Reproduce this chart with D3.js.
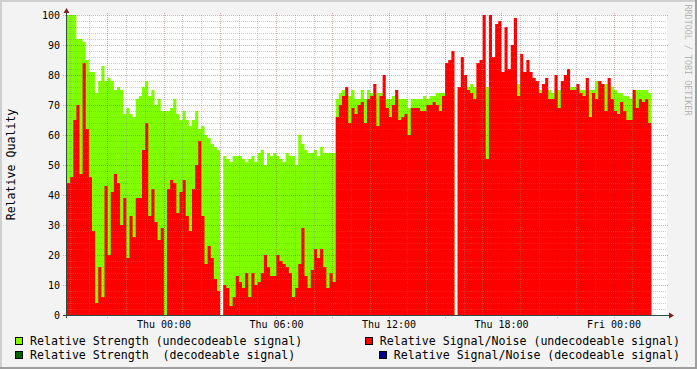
<!DOCTYPE html>
<html>
<head>
<meta charset="utf-8">
<title>Relative Quality</title>
<script src="https://d3js.org/d3.v7.min.js"></script>
<style>
  body { margin: 0; background: #f3f3f3; }
  svg text { font-family: "DejaVu Sans Mono", monospace; fill: #000; }
</style>
</head>
<body>
<script>
// one value every 10 minutes, starting Wed 18:51
const startTime = new Date(2010, 0, 6, 18, 51, 12);
const stepMinutes = 10;

// Relative Strength (undecodeable signal), null = no data
const strength = [
  100,100,100,92,92,91,85,81,81,74, 78,83,78,79,78,75,76,75,67,69,
  67,66,72,73,76,78,73,75,70,72, 68,68,68,69,72,67,65,68,65,63,
  65,68,62,63,60,59,57,56,55,null, 53,52,51,53,53,53,52,51,52,53,
  51,54,55,50,54,53,54,53,52,51, 54,53,53,50,60,57,55,54,54,55,
  53,56,54,54,54,54,72,74,75,74, 73,75,72,72,75,72,75,74,72,74,
  74,73,72,72,73,73,72,72,72,69, 72,72,72,72,73,72,73,73,74,74,
  74,75,75,75,null,75,75,75,76,77, 76,75,75,75,76,75,75,76,75,75,
  75,75,75,75,77,75,75,75,75,75, 75,75,75,75,75,74,75,75,75,75,
  75,76,76,76,75,75,75,75,75,78, 78,77,77,77,76,75,74,74,73,73,
  72,74,75,75,75,75,74
];

// Relative Signal/Noise (undecodeable signal), null = no data
const signalNoise = [
  44,46,65,70,47,84,62,46,28,4, 16,6,43,20,41,47,44,30,39,19,
  33,26,39,39,55,64,33,42,31,25, 29,0,42,45,44,34,41,45,33,28,
  42,50,58,33,17,23,19,12,8,null, 10,9,3,6,13,11,9,14,6,14,
  10,11,14,20,16,13,13,20,18,17, 16,14,6,9,17,29,13,9,15,22,
  19,22,16,9,14,11,66,70,73,76, 64,69,67,70,71,64,72,73,77,63,
  73,80,69,66,70,75,65,66,67,60, 69,69,69,68,68,70,70,71,70,68,
  73,84,85,88,null,76,86,80,75,74, 72,84,85,100,52,100,86,97,98,81,
  96,82,90,99,73,87,81,85,81,79, 78,74,77,79,72,72,80,69,78,80,
  82,75,75,77,74,73,79,66,74,72, 78,77,68,79,72,68,67,71,68,65,
  65,75,69,72,71,72,64
];

const yTicks = [0, 10, 20, 30, 40, 50, 60, 70, 80, 90, 100];
const xTickLabels = ["Thu 00:00", "Thu 06:00", "Thu 12:00", "Thu 18:00", "Fri 00:00"];

const legendItems = [
  {label: "Relative Strength (undecodeable signal)", color: "#7fff00", col: 0, row: 0},
  {label: "Relative Signal/Noise (undecodeable signal)", color: "#ff0000", col: 1, row: 0},
  {label: "Relative Strength  (decodeable signal)", color: "#006400", col: 0, row: 1},
  {label: "Relative Signal/Noise (decodeable signal)", color: "#00008b", col: 1, row: 1}
];

const W = 697, H = 369;

const svg = d3.select("body").append("svg")
    .attr("width", W)
    .attr("height", H);

// background and 3d frame
svg.append("rect").attr("width", W).attr("height", H).attr("fill", "#f3f3f3");
svg.append("path").attr("d", `M0,${H} V0 H${W}`).attr("fill", "none")
    .attr("stroke", "#cfcfcf").attr("stroke-width", 4);
svg.append("path").attr("d", `M0,${H} H${W} V0`).attr("fill", "none")
    .attr("stroke", "#9e9e9e").attr("stroke-width", 4);

let x = d3.scaleTime()
    .domain([startTime, d3.timeHour.offset(startTime, 32)])
    .range([67, 667]);
let y = d3.scaleLinear().domain([0, 100]).range([315, 15]);

// canvas
svg.append("rect")
    .attr("x", 67).attr("y", 15)
    .attr("width", 600).attr("height", 300)
    .attr("fill", "white");

function stepPoints(values) {
    let pts = [];
    values.forEach((v, i) => {
        pts.push({t: d3.timeMinute.offset(startTime, i * stepMinutes), v: v});
        pts.push({t: d3.timeMinute.offset(startTime, (i + 1) * stepMinutes), v: v});
    });
    return pts;
}

let area = d3.area()
    .defined(d => d.v != null)
    .x(d => x(d.t))
    .y0(y(0))
    .y1(d => y(d.v));

svg.append("path")
    .attr("d", area(stepPoints(strength)))
    .attr("fill", "#7fff00");

svg.append("path")
    .attr("d", area(stepPoints(signalNoise)))
    .attr("fill", "#ff0000");

// grid, drawn over the areas like rrdtool does
let grid = svg.append("g").attr("shape-rendering", "crispEdges");

d3.range(0, 101, 2).filter(v => v % 10 != 0).forEach(v => {
    grid.append("line")
        .attr("x1", 67).attr("x2", 667)
        .attr("y1", y(v) + 0.5).attr("y2", y(v) + 0.5)
        .attr("stroke", "rgba(140,140,140,0.45)")
        .attr("stroke-dasharray", "1,1");
});

let hours = d3.timeHour.every(1).range(x.domain()[0], x.domain()[1]);
hours.filter(h => h.getHours() % 3 != 0).forEach(h => {
    grid.append("line")
        .attr("x1", Math.round(x(h)) + 0.5).attr("x2", Math.round(x(h)) + 0.5)
        .attr("y1", 15).attr("y2", 315)
        .attr("stroke", "rgba(140,140,140,0.45)")
        .attr("stroke-dasharray", "1,1");
});

yTicks.forEach(v => {
    grid.append("line")
        .attr("x1", 63).attr("x2", 669)
        .attr("y1", y(v) + 0.5).attr("y2", y(v) + 0.5)
        .attr("stroke", "rgba(130,30,30,0.35)")
        .attr("stroke-dasharray", "1,1");
});

hours.filter(h => h.getHours() % 3 == 0).forEach(h => {
    grid.append("line")
        .attr("x1", Math.round(x(h)) + 0.5).attr("x2", Math.round(x(h)) + 0.5)
        .attr("y1", 13).attr("y2", 318)
        .attr("stroke", "rgba(130,30,30,0.35)")
        .attr("stroke-dasharray", "1,1");
});

// axes
let axisColor = "#2c4d43";
svg.append("line")
    .attr("x1", 63).attr("x2", 669)
    .attr("y1", 315.5).attr("y2", 315.5)
    .attr("stroke", axisColor).attr("shape-rendering", "crispEdges");
svg.append("line")
    .attr("x1", 66.5).attr("x2", 66.5)
    .attr("y1", 318).attr("y2", 12)
    .attr("stroke", axisColor).attr("shape-rendering", "crispEdges");
svg.append("path").attr("d", "M669,312.5 L674,315.5 L669,318.5 Z").attr("fill", "#7f1f1f");
svg.append("path").attr("d", "M63.5,13 L66.5,8 L69.5,13 Z").attr("fill", "#7f1f1f");

// tick labels
let xAxis = d3.axisBottom(x)
    .tickValues(d3.timeHour.every(6).range(x.domain()[0], x.domain()[1]))
    .tickFormat((d, i) => xTickLabels[i])
    .tickSize(0)
    .tickPadding(0);

let gx = svg.append("g").attr("transform", "translate(0,0)").call(xAxis);
gx.select(".domain").remove();
gx.selectAll("text")
    .attr("y", 328).attr("dy", null)
    .style("font-family", "DejaVu Sans Mono")
    .style("font-size", "10px");

let yAxis = d3.axisLeft(y).tickValues(yTicks).tickSize(0).tickPadding(0);
let gy = svg.append("g").call(yAxis);
gy.select(".domain").remove();
gy.selectAll("text")
    .attr("x", 60).attr("dy", "3.6")
    .style("font-family", "DejaVu Sans Mono")
    .style("font-size", "10px");

// y label
svg.append("text")
    .attr("transform", "translate(15,164.5) rotate(-90)")
    .attr("text-anchor", "middle")
    .style("font-size", "11.6px")
    .text("Relative Quality");

// watermark
svg.append("text")
    .attr("transform", "translate(685,4.5) rotate(90)")
    .style("font-size", "8.4px")
    .style("fill", "#b4b4b4")
    .text("RRDTOOL / TOBI OETIKER");

// legend
let rowY = [344.5, 358.5];
legendItems.forEach(item => {
    let t = svg.append("text")
        .attr("y", rowY[item.row])
        .style("font-size", "11.6px")
        .style("white-space", "pre")
        .text(item.label);
    let tx;
    if (item.col == 0) {
        tx = 30;
    } else {
        tx = 680 - t.node().getComputedTextLength();
    }
    t.attr("x", tx);
    svg.append("rect")
        .attr("x", tx - 14.5).attr("y", rowY[item.row] - 7.5)
        .attr("width", 7).attr("height", 7)
        .attr("fill", item.color)
        .attr("stroke", "#000")
        .attr("shape-rendering", "crispEdges");
});
</script>
</body>
</html>
